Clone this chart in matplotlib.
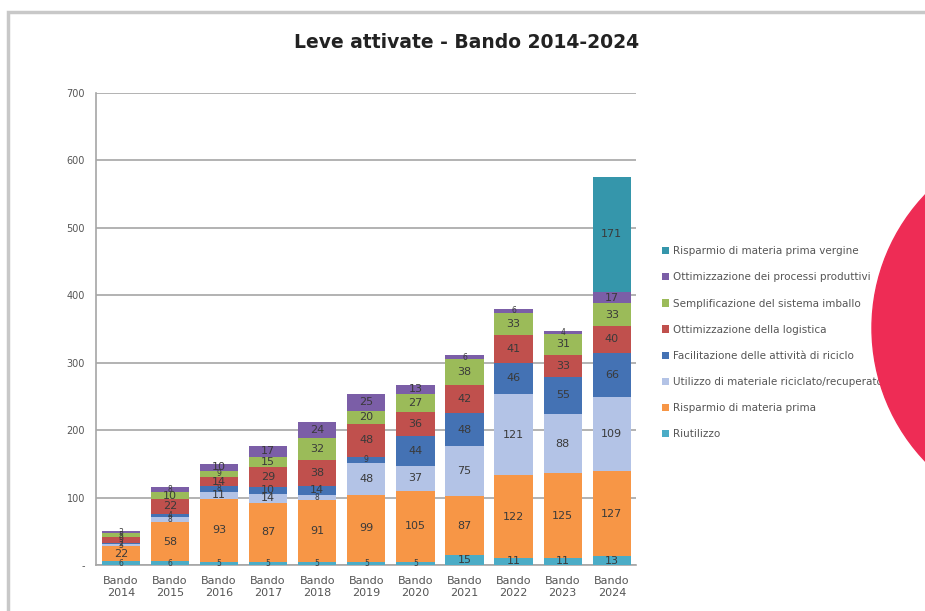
import matplotlib.pyplot as plt
import numpy as np
from matplotlib.patches import Circle, Rectangle

# data (bottom to top in each stack)
years = ['2014', '2015', '2016', '2017', '2018', '2019', '2020', '2021', '2022', '2023', '2024']
riutilizzo = [6, 6, 5, 5, 5, 5, 5, 15, 11, 11, 13]
risparmio = [22, 58, 93, 87, 91, 99, 105, 87, 122, 125, 127]
riciclato = [3, 8, 11, 14, 8, 48, 37, 75, 121, 88, 109]
facilitazione = [2, 4, 8, 10, 14, 9, 44, 48, 46, 55, 66]
logistica = [9, 22, 14, 29, 38, 48, 36, 42, 41, 33, 40]
imballo = [5, 10, 9, 15, 32, 20, 27, 38, 33, 31, 33]
processi = [3, 8, 10, 17, 24, 25, 13, 6, 6, 4, 17]
vergine = [0, 0, 0, 0, 0, 0, 0, 0, 0, 0, 171]

series = [
    ('Riutilizzo', riutilizzo, '#4BACC6'),
    ('Risparmio di materia prima', risparmio, '#F79646'),
    ('Utilizzo di materiale riciclato/recuperato', riciclato, '#B3C3E6'),
    ('Facilitazione delle attività di riciclo', facilitazione, '#4472B4'),
    ('Ottimizzazione della logistica', logistica, '#C0504D'),
    ('Semplificazione del sistema imballo', imballo, '#9BBB59'),
    ('Ottimizzazione dei processi produttivi', processi, '#7B5EA7'),
    ('Risparmio di materia prima vergine', vergine, '#3596AB'),
]

fig = plt.figure(figsize=(9.25, 6.11), dpi=100)
ax = fig.add_axes([0.104, 0.075, 0.584, 0.773])

x = np.arange(len(years))
bottom = np.zeros(len(years))
handles = []
for name, vals, col in series:
    vals = np.array(vals, dtype=float)
    bars = ax.bar(x, vals, 0.78, bottom=bottom, color=col, label=name, zorder=3)
    handles.append(bars)
    for xi, v, b in zip(x, vals, bottom):
        if v > 0:
            # small segments get a smaller label, as the labels are crammed there
            fs = 8 if v >= 10 else 5.5
            ax.text(xi, b + v / 2, str(int(v)), ha='center', va='center',
                    fontsize=fs, color='#3a3a3a', zorder=4)
    bottom += vals

ax.set_ylim(0, 700)
ax.set_xlim(-0.5, len(years) - 0.5)
ax.set_yticks(range(0, 701, 100))
ax.set_yticklabels(['-'] + [str(v) for v in range(100, 701, 100)], fontsize=7, color='#555555')
ax.set_xticks(x)
ax.set_xticklabels(['Bando\n' + y for y in years], fontsize=8, color='#555555')
ax.tick_params(length=0, pad=8)
ax.yaxis.grid(True, color='#a6a6a6', linewidth=1.2, zorder=0)
ax.set_axisbelow(True)
for s in ['top', 'right']:
    ax.spines[s].set_visible(False)
ax.spines['left'].set_color('#a6a6a6')
ax.spines['bottom'].set_color('#a6a6a6')
ax.spines['left'].set_linewidth(1.2)
ax.spines['bottom'].set_linewidth(1.2)

fig.text(0.504, 0.93, 'Leve attivate - Bando 2014-2024', ha='center', va='center',
         fontsize=13.5, fontweight='bold', color='#222222')

fig.legend(handles[::-1], [s[0] for s in series][::-1], loc='center left',
           bbox_to_anchor=(0.705, 0.439), frameon=False, fontsize=7.5,
           labelcolor='#555555', handlelength=0.7, handleheight=0.7,
           handletextpad=0.4, labelspacing=1.55)

# chart frame from the screenshot
fig.patches.append(Rectangle((0.009, -0.1), 1.2, 1.08, transform=fig.transFigure,
                             fill=False, edgecolor='#c8c8c8', linewidth=2.5, zorder=0))

# decorative pink circle on the right
fig.patches.append(Circle((1065, 611 - 328), 193, transform=None, color='#EE2C55', zorder=10))

fig.savefig('out.png', dpi=100)
